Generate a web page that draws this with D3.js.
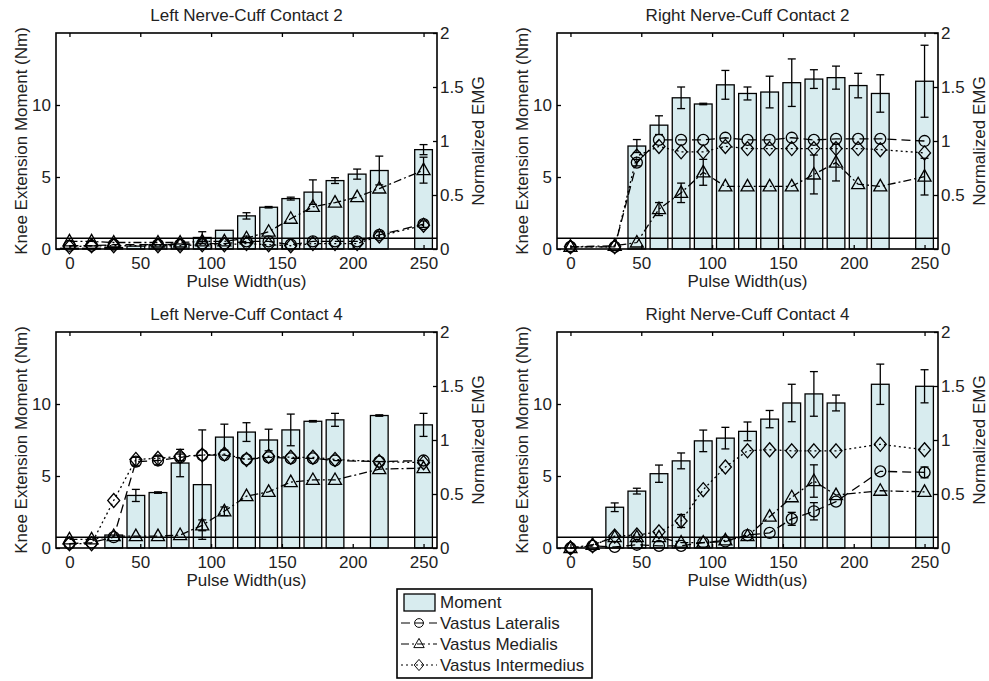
<!DOCTYPE html>
<html>
<head>
<meta charset="utf-8">
<script src="https://cdn.jsdelivr.net/npm/d3@7"></script>
<style>
  body { margin: 0; background: #fff; }
  svg { display: block; font-family: "Liberation Sans", Arial, sans-serif; }
</style>
</head>
<body>
<svg id="chart" width="989" height="681"></svg>
<script>
// pulse widths (us) used for every panel
const pulseWidth = [0, 15.625, 31.25, 46.875, 62.5, 78.125, 93.75, 109.375, 125, 140.625, 156.25, 171.875, 187.5, 203.125, 218.75, 250];
const xTicks = [0, 50, 100, 150, 200, 250];
const momentTicks = [0, 5, 10];
const emgTicks = [0, 0.5, 1, 1.5, 2];
const emgThreshold = 0.1;

// Left nerve-cuff contact 2
const leftC2Moment = [0.05, 0.05, 0.1, 0.2, 0.3, 0.35, 0.8, 1.3, 2.3, 2.9, 3.5, 3.95, 4.75, 5.2, 5.45, 6.9];
const leftC2MomentErr = [0, 0, 0, 0, 0, 0, 0.4, 0, 0.22, 0.05, 0.1, 0.85, 0.2, 0.35, 1.0, 0.35];
const leftC2VL = [0.03, 0.03, 0.04, null, 0.04, 0.04, 0.05, 0.05, 0.07, 0.07, 0.04, 0.07, 0.07, 0.07, 0.13, 0.23];
const leftC2VLErr = [0, 0, 0, 0, 0, 0, 0, 0, 0, 0, 0, 0, 0, 0, 0.03, 0.03];
const leftC2VM = [0.07, 0.07, 0.06, null, 0.06, 0.06, 0.07, 0.07, 0.1, 0.16, 0.28, 0.39, 0.43, 0.48, 0.56, 0.73];
const leftC2VMErr = [0, 0, 0, 0, 0, 0, 0, 0, 0, 0, 0, 0, 0, 0, 0, 0.12];
const leftC2VI = [0.02, 0.03, 0.03, null, 0.03, 0.03, 0.04, 0.04, 0.05, 0.04, 0.03, 0.05, 0.05, 0.05, 0.12, 0.22];
const leftC2VIErr = [0, 0, 0, 0, 0, 0, 0, 0, 0, 0, 0, 0, 0, 0, 0, 0];

// Right nerve-cuff contact 2
const rightC2Moment = [0, null, 0, 7.15, 8.6, 10.5, 10.07, 11.4, 10.8, 10.9, 11.55, 11.8, 11.9, 11.35, 10.8, 11.65];
const rightC2MomentErr = [0, 0, 0, 0.45, 0.65, 0.75, 0.05, 1.0, 0.45, 1.1, 1.65, 0.65, 0.8, 0.85, 1.3, 2.5];
const rightC2VL = [0.02, null, 0.02, 0.8, 1.01, 1.01, 1.01, 1.03, 1.01, 1.01, 1.03, 1.01, 1.02, 1.02, 1.02, 1.0];
const rightC2VLErr = [0, 0, 0, 0.03, 0, 0, 0, 0, 0, 0, 0, 0, 0, 0, 0, 0];
const rightC2VM = [0.02, null, 0.03, 0.06, 0.37, 0.52, 0.71, 0.58, 0.58, 0.58, 0.58, 0.69, 0.8, 0.6, 0.58, 0.67];
const rightC2VMErr = [0, 0, 0, 0, 0.06, 0.09, 0.12, 0, 0, 0, 0, 0.18, 0.17, 0, 0, 0.17];
const rightC2VI = [0.02, null, 0.02, 0.86, 0.95, 0.9, 0.9, 0.95, 0.93, 0.93, 0.93, 0.93, 0.93, 0.93, 0.92, 0.89];
const rightC2VIErr = [0, 0, 0, 0, 0, 0, 0, 0, 0, 0, 0, 0, 0, 0, 0, 0];

// Left nerve-cuff contact 4
const leftC4Moment = [0, 0, 0.9, 3.65, 3.85, 5.9, 4.4, 7.7, 8.05, 7.5, 8.2, 8.8, 8.9, null, 9.2, 8.55];
const leftC4MomentErr = [0, 0, 0, 0.42, 0.05, 0.95, 3.8, 0.9, 0.65, 0.75, 1.1, 0.05, 0.45, 0, 0.05, 0.8];
const leftC4VL = [0.04, 0.05, 0.1, 0.8, 0.81, 0.84, 0.86, 0.86, 0.82, 0.84, 0.83, 0.83, 0.81, null, 0.8, 0.81];
const leftC4VLErr = [0, 0, 0, 0.04, 0.04, 0.03, 0, 0, 0, 0, 0, 0, 0, 0, 0, 0];
const leftC4VM = [0.08, 0.08, 0.11, 0.11, 0.11, 0.12, 0.21, 0.34, 0.48, 0.52, 0.61, 0.63, 0.63, null, 0.73, 0.74];
const leftC4VMErr = [0, 0, 0, 0, 0, 0, 0.05, 0.04, 0, 0, 0, 0, 0, 0, 0, 0];
const leftC4VI = [0.04, 0.04, 0.44, 0.82, 0.83, 0.85, 0.86, 0.87, 0.82, 0.85, 0.84, 0.84, 0.82, null, 0.8, 0.79];
const leftC4VIErr = [0, 0, 0, 0, 0, 0, 0, 0, 0, 0, 0, 0, 0, 0, 0, 0];

// Right nerve-cuff contact 4
const rightC4Moment = [0, 0, 2.83, 3.95, 5.16, 6.05, 7.44, 7.63, 8.1, 8.95, 10.07, 10.7, 10.07, null, 11.37, 11.23];
const rightC4MomentErr = [0, 0, 0.3, 0.2, 0.6, 0.55, 0.75, 0.75, 0.65, 0.6, 1.3, 1.55, 0.55, 0, 1.4, 1.15];
const rightC4VL = [0, 0.02, 0.01, 0.03, 0.02, 0.02, 0.05, 0.06, 0.12, 0.14, 0.27, 0.34, 0.43, null, 0.71, 0.7];
const rightC4VLErr = [0, 0, 0, 0, 0, 0, 0, 0, 0, 0, 0.06, 0.08, 0, 0, 0, 0.05];
const rightC4VM = [0, 0.03, 0.1, 0.1, 0.1, 0.05, 0.05, 0.07, 0.11, 0.29, 0.47, 0.62, 0.49, null, 0.53, 0.52];
const rightC4VMErr = [0, 0, 0, 0, 0, 0, 0, 0, 0, 0, 0, 0.15, 0, 0, 0, 0];
const rightC4VI = [0, 0.02, 0.11, 0.12, 0.15, 0.25, 0.54, 0.75, 0.9, 0.91, 0.9, 0.9, 0.9, null, 0.96, 0.91];
const rightC4VIErr = [0, 0, 0, 0, 0, 0.06, 0, 0, 0, 0, 0, 0, 0, 0, 0, 0];

const panels = [
  { title: "Left Nerve-Cuff Contact 2", left: 56, top: 33,
    moment: leftC2Moment, momentErr: leftC2MomentErr,
    series: [[leftC2VL, leftC2VLErr], [leftC2VM, leftC2VMErr], [leftC2VI, leftC2VIErr]] },
  { title: "Right Nerve-Cuff Contact 2", left: 557, top: 33,
    moment: rightC2Moment, momentErr: rightC2MomentErr,
    series: [[rightC2VL, rightC2VLErr], [rightC2VM, rightC2VMErr], [rightC2VI, rightC2VIErr]] },
  { title: "Left Nerve-Cuff Contact 4", left: 56, top: 332,
    moment: leftC4Moment, momentErr: leftC4MomentErr,
    series: [[leftC4VL, leftC4VLErr], [leftC4VM, leftC4VMErr], [leftC4VI, leftC4VIErr]] },
  { title: "Right Nerve-Cuff Contact 4", left: 557, top: 332,
    moment: rightC4Moment, momentErr: rightC4MomentErr,
    series: [[rightC4VL, rightC4VLErr], [rightC4VM, rightC4VMErr], [rightC4VI, rightC4VIErr]] },
];

// style of each muscle: name, dash pattern, marker
const muscles = [
  { name: "Vastus Lateralis", dash: "9,5", marker: "circle" },
  { name: "Vastus Medialis", dash: "8,3,2,3", marker: "triangle" },
  { name: "Vastus Intermedius", dash: "2,3", marker: "diamond" },
];

const W = 381, H = 216;
const barFill = "#d8ecef";
const fontSize = "17px";
const svg = d3.select("#chart");

function markerPath(type) {
  if (type === "circle") return d3.symbol(d3.symbolCircle, Math.PI * 5.5 * 5.5)();
  if (type === "triangle") return "M0,-7L6.5,4.5L-6.5,4.5Z";
  return "M0,-7L6,0L0,7L-6,0Z";
}

function errBar(g, x, y0, y1, cap) {
  g.append("line").attr("x1", x).attr("x2", x).attr("y1", y0).attr("y2", y1);
  g.append("line").attr("x1", x - cap).attr("x2", x + cap).attr("y1", y0).attr("y2", y0);
  g.append("line").attr("x1", x - cap).attr("x2", x + cap).attr("y1", y1).attr("y2", y1);
}

panels.forEach((p) => {
  const g = svg.append("g").attr("transform", `translate(${p.left},${p.top})`);

  const x = d3.scaleLinear().domain([-9.5, 259.5]).range([0, W]);
  const yL = d3.scaleLinear().domain([0, 15]).range([H, 0]);
  const yR = d3.scaleLinear().domain([0, 2]).range([H, 0]);
  const halfBar = 0.4 * 15.625;

  // bars
  const bars = pulseWidth.map((pw, i) => ({ pw, v: p.moment[i], e: p.momentErr[i] }))
    .filter((d) => d.v != null);
  g.selectAll("rect.bar").data(bars).enter().append("rect")
    .attr("class", "bar")
    .attr("x", (d) => x(d.pw - halfBar))
    .attr("width", (d) => x(d.pw + halfBar) - x(d.pw - halfBar))
    .attr("y", (d) => yL(d.v))
    .attr("height", (d) => H - yL(d.v))
    .attr("fill", barFill).attr("stroke", "#000").attr("stroke-width", 1.3);

  const eg = g.append("g").attr("stroke", "#000").attr("stroke-width", 1.3);
  bars.filter((d) => d.e > 0).forEach((d) => {
    errBar(eg, x(d.pw), yL(d.v - d.e), yL(d.v + d.e), 4);
  });

  // threshold line
  g.append("line").attr("x1", 0).attr("x2", W)
    .attr("y1", yR(emgThreshold)).attr("y2", yR(emgThreshold))
    .attr("stroke", "#000").attr("stroke-width", 1.6);

  // EMG series
  p.series.forEach(([vals, errs], k) => {
    const m = muscles[k];
    const pts = pulseWidth.map((pw, i) => ({ pw, v: vals[i], e: errs[i] })).filter((d) => d.v != null);
    const line = d3.line().x((d) => x(d.pw)).y((d) => yR(d.v));
    g.append("path").datum(pts).attr("d", line)
      .attr("fill", "none").attr("stroke", "#000").attr("stroke-width", 1.3)
      .attr("stroke-dasharray", m.dash);
    const mg = g.append("g").attr("stroke", "#000").attr("stroke-width", 1.3).attr("fill", "none");
    pts.filter((d) => d.e > 0).forEach((d) => errBar(mg, x(d.pw), yR(d.v - d.e), yR(d.v + d.e), 4));
    mg.selectAll("path").data(pts).enter().append("path")
      .attr("d", markerPath(m.marker))
      .attr("transform", (d) => `translate(${x(d.pw)},${yR(d.v)})`);
  });

  // axes with inward ticks
  const bottom = g.append("g").attr("transform", `translate(0,${H})`)
    .call(d3.axisBottom(x).tickValues(xTicks).tickSize(-4).tickSizeOuter(0).tickPadding(8));
  g.append("g")
    .call(d3.axisTop(x).tickValues(xTicks).tickSize(-4).tickSizeOuter(0).tickFormat(""));
  const left = g.append("g")
    .call(d3.axisLeft(yL).tickValues(momentTicks).tickSize(-4).tickSizeOuter(0).tickPadding(5));
  const right = g.append("g").attr("transform", `translate(${W},0)`)
    .call(d3.axisRight(yR).tickValues(emgTicks).tickSize(-4).tickSizeOuter(0).tickPadding(3)
      .tickFormat((d) => String(d)));
  g.selectAll(".domain").remove();
  g.selectAll(".tick line").attr("stroke", "#000").attr("stroke-width", 1.3);
  [bottom, left, right].forEach((a) =>
    a.selectAll("text").attr("font-size", fontSize).attr("fill", "#222")
      .attr("font-family", "Liberation Sans, Arial, sans-serif"));

  // frame
  g.append("rect").attr("width", W).attr("height", H)
    .attr("fill", "none").attr("stroke", "#000").attr("stroke-width", 1.6);

  // texts
  g.append("text").attr("x", W / 2).attr("y", -12).attr("text-anchor", "middle")
    .attr("font-size", fontSize).attr("fill", "#222").text(p.title);
  g.append("text").attr("x", W / 2).attr("y", H + 38).attr("text-anchor", "middle")
    .attr("font-size", fontSize).attr("fill", "#222").text("Pulse Width(us)");
  g.append("text").attr("transform", `translate(-35,${H / 2}) rotate(-90)`)
    .attr("dy", "0.35em").attr("text-anchor", "middle")
    .attr("font-size", fontSize).attr("fill", "#222").text("Knee Extension Moment (Nm)");
  g.append("text").attr("transform", `translate(${W + 41},${H / 2}) rotate(-90)`)
    .attr("dy", "0.35em").attr("text-anchor", "middle")
    .attr("font-size", fontSize).attr("fill", "#222").text("Normalized EMG");
});

// legend
const lg = svg.append("g").attr("transform", "translate(397,589)");
lg.append("rect").attr("width", 195).attr("height", 89)
  .attr("fill", "#fff").attr("stroke", "#000").attr("stroke-width", 1.6);
lg.append("rect").attr("x", 7).attr("y", 5).attr("width", 31).attr("height", 17)
  .attr("fill", barFill).attr("stroke", "#000").attr("stroke-width", 1.3);
const rowsY = [13.5, 34, 55, 76];
lg.append("text").attr("x", 43).attr("y", rowsY[0]).attr("dy", "0.35em")
  .attr("font-size", fontSize).attr("fill", "#222").text("Moment");
muscles.forEach((m, k) => {
  const yy = rowsY[k + 1];
  lg.append("line").attr("x1", 4).attr("x2", 40).attr("y1", yy).attr("y2", yy)
    .attr("stroke", "#000").attr("stroke-width", 1.2).attr("stroke-dasharray", m.dash);
  lg.append("path").attr("d", markerPath(m.marker))
    .attr("transform", `translate(22,${yy}) scale(0.8)`)
    .attr("fill", "none").attr("stroke", "#000").attr("stroke-width", 1.2);
  lg.append("text").attr("x", 43).attr("y", yy).attr("dy", "0.35em")
    .attr("font-size", fontSize).attr("fill", "#222").text(m.name);
});
</script>
</body>
</html>
